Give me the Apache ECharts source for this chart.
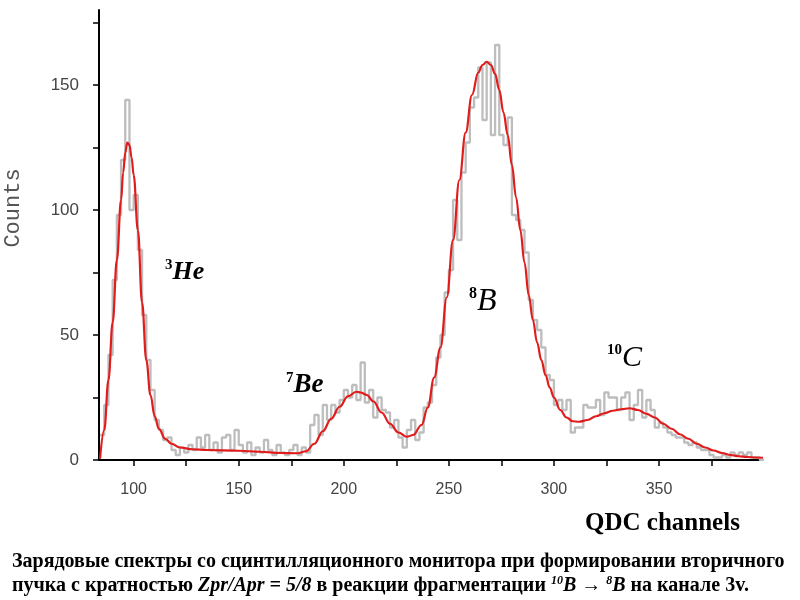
<!DOCTYPE html>
<html><head><meta charset="utf-8">
<script src="https://cdn.jsdelivr.net/npm/echarts@6/dist/echarts.min.js"></script>
<style>html,body{margin:0;padding:0;background:#fff}#c{width:800px;height:600px}</style>
</head><body><div id="c"></div>
<script>
// Histogram (grey steps): bin left edges (channels) and counts
const histEdges = [84,86,88,90,92,94,96,98,100,102,104,106,108,110,112,114,116,118,120,122,124,126,128,130,132,134,136,138,140,142,144,146,148,150,152,154,156,158,160,162,164,166,168,170,172,174,176,178,180,182,184,186,188,190,192,194,196,198,200,202,204,206,208,210,212,214,216,218,220,222,224,226,228,230,232,234,236,238,240,242,244,246,248,250,252,254,256,258,260,262,264,266,268,270,272,274,276,278,280,282,284,286,288,290,292,294,296,298,300,302,304,306,308,310,312,314,316,318,320,322,324,326,328,330,332,334,336,338,340,342,344,346,348,350,352,354,356,358,360,362,364,366,368,370,372,374,376,378,380,382,384,386,388,390,392,394,396,398,400];
const histCounts = [10,22,42,72,98,120,144,100,106,84,58,40,28,16,12,8,9,4,2,5,3,6,4,9,5,10,4,7,3,9,10,4,12,6,3,7,2,5,3,8,4,2,6,3,2,4,6,2,5,3,14,18,10,22,16,22,19,24,28,25,30,24,39,23,28,17,25,20,19,13,16,9,5,12,16,8,11,21,23,30,41,50,67,76,104,88,115,127,141,145,157,136,159,130,166,130,126,137,98,96,92,83,64,56,52,45,34,32,22,24,20,24,11,13,13,22,21,21,24,18,27,25,25,20,25,27,16,22,28,17,24,20,13,15,13,11,10,9,9,7,6,7,5,4,4,2,1,1,2,1,3,2,3,2,3,1,1,0];
// Fitted curve (red)
const fitX = [84,86,88,90,92,94,95,96,97,98,99,100,102,104,106,108,110,112,115,118,122,128,135,150,160,170,178,182,186,190,194,198,202,206,208,211,214,218,222,226,230,233,237,240,243,246,249,252,255,258,261,264,266,268,270,272,274,276,278,280,282,284,286,288,290,292,294,296,298,300,303,306,309,312,316,320,324,328,332,336,340,344,348,352,356,360,364,368,372,376,380,384,388,392,396,399.5];
const fitY = [0.5,12,32,55,80,104,115,123,127,126,121,114,92,63,40,26,17.5,12.5,8.5,6.5,5,4.3,4,3.7,3.3,2.8,2.7,3.5,6.5,11.5,16.5,21.3,25.5,27.3,27,26,23.5,19,14.5,11,9.3,10,14,21,33,45,65,88,112,131,146,155,158,159.3,158,154.5,148,139,130,118,105,92,79,66,56,47,40,34,29,25,20,17,15.5,15.3,16,17.5,18.7,19.7,20.3,20.7,20,18.5,17,14.5,12.5,10.3,8.5,6.5,5,3.8,2.8,2,1.5,1.2,1,0.9];
// Axis ticks / labels
const xTicks = [100,125,150,175,200,225,250,275,300,325,350,375];
const xLabels = [100,150,200,250,300,350];
const yTicks = [0,25,50,75,100,125,150,175];
const yLabels = [0,50,100,150];

const histData = histCounts.map((v,i)=>[histEdges[i],v]);
histData.push([histEdges[histCounts.length], histCounts[histCounts.length-1]]);
const fitData = fitX.map((x,i)=>[x,fitY[i]]);

const chart = echarts.init(document.getElementById('c'), null, {renderer:'canvas'});
const serif = '"Liberation Serif","Times New Roman",serif';
chart.setOption({
  animation:false,
  backgroundColor:'#fff',
  grid:{left:99,right:37,top:10,bottom:140},
  xAxis:{type:'value',min:83.5,max:399.5,
    axisLine:{lineStyle:{color:'#000',width:2}},
    axisTick:{show:true,customValues:xTicks,length:6,lineStyle:{color:'#000',width:1.5}},
    axisLabel:{customValues:xLabels,margin:22,color:'#444',fontSize:16,fontFamily:'"Liberation Sans",Arial,sans-serif'},
    splitLine:{show:false}},
  yAxis:{type:'value',min:0,max:180,
    axisLine:{show:true,lineStyle:{color:'#000',width:2}},
    axisTick:{show:true,customValues:yTicks,length:6,lineStyle:{color:'#000',width:1.5}},
    axisLabel:{customValues:yLabels,margin:20,color:'#444',fontSize:17,fontFamily:'"Liberation Sans",Arial,sans-serif'},
    splitLine:{show:false}},
  series:[
    {type:'line',data:histData,step:'end',symbol:'none',lineStyle:{color:'#bdbdbd',width:2.3},z:2},
    {type:'line',data:fitData,smooth:0.4,smoothMonotone:'x',symbol:'none',lineStyle:{color:'#e01c1c',width:2.2},z:3}
  ],
  graphic:[
    {type:'text',x:13,y:208,rotation:Math.PI/2,style:{text:'Counts',font:'22px "Liberation Mono","Courier New",monospace',fill:'#555',align:'center',verticalAlign:'middle'}},
    {type:'text',x:165,y:272,style:{text:'{s|3}{m|He}',align:'left',verticalAlign:'middle',rich:{s:{font:'bold 15px '+serif,fill:'#000',verticalAlign:'top',lineHeight:24},m:{font:'bold italic 26px '+serif,fill:'#000',lineHeight:28}}}},
    {type:'text',x:286,y:385,style:{text:'{s|7}{m|Be}',align:'left',verticalAlign:'middle',rich:{s:{font:'bold 15px '+serif,fill:'#000',verticalAlign:'top',lineHeight:24},m:{font:'bold italic 27px '+serif,fill:'#000',lineHeight:28}}}},
    {type:'text',x:469,y:302,style:{text:'{s|8}{m|B}',align:'left',verticalAlign:'middle',rich:{s:{font:'bold 16px '+serif,fill:'#000',verticalAlign:'top',lineHeight:28},m:{font:'italic 32px '+serif,fill:'#000',lineHeight:32}}}},
    {type:'text',x:607,y:358,style:{text:'{s|10}{m|C}',align:'left',verticalAlign:'middle',rich:{s:{font:'bold 15px '+serif,fill:'#000',verticalAlign:'top',lineHeight:26},m:{font:'italic 30px '+serif,fill:'#000',lineHeight:30}}}},
    {type:'text',x:585,y:524,style:{text:'QDC channels',font:'bold 25px '+serif,fill:'#000',align:'left',verticalAlign:'middle'}},
    {type:'text',x:12,y:562,style:{text:'Зарядовые спектры со сцинтилляционного монитора при формировании вторичного',font:'bold 20px '+serif,fill:'#000',align:'left',verticalAlign:'middle'}},
    {type:'text',x:12,y:586,style:{text:'{n|пучка с кратностью }{i|Zpr/Apr = 5/8}{n| в реакции фрагментации }{s|10}{i|B}{n| → }{s|8}{i|B}{n| на канале 3v.}',align:'left',verticalAlign:'middle',rich:{
      n:{font:'bold 20px '+serif,fill:'#000',lineHeight:22},
      i:{font:'bold italic 20px '+serif,fill:'#000',lineHeight:22},
      s:{font:'bold italic 12px '+serif,fill:'#000',verticalAlign:'top',lineHeight:18}}}}
  ]
});
</script></body></html>
